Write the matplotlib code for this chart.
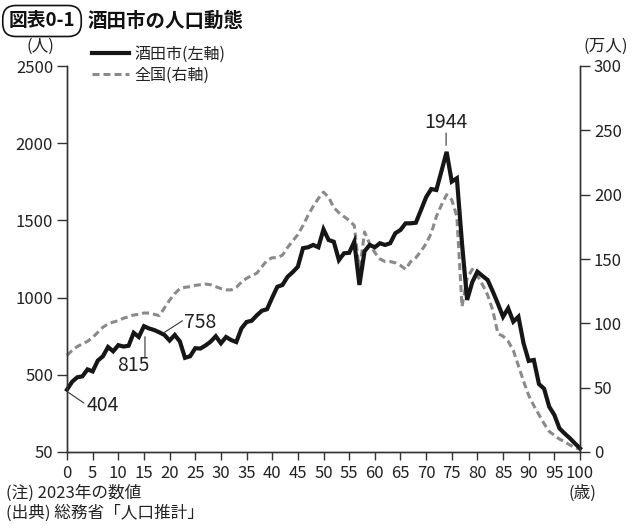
import matplotlib
matplotlib.use("Agg")
import matplotlib.pyplot as plt
from matplotlib import font_manager

plt.rcParams['font.family'] = ['Noto Sans CJK JP', 'DejaVu Sans']

ages = list(range(0, 101))
sakata = [404, 455, 484, 490, 535, 522, 592, 620, 680, 652,
          692, 683, 688, 772, 745, 815, 800, 790, 775, 758,
          722, 758, 716, 610, 620, 672, 670, 690, 715, 750,
          704, 745, 725, 712, 800, 842, 850, 885, 915, 925,
          1000, 1070, 1082, 1135, 1165, 1200, 1320, 1326, 1341, 1326,
          1442, 1373, 1362, 1243, 1287, 1290, 1362, 1082, 1300, 1341,
          1326, 1352, 1341, 1352, 1417, 1438, 1481, 1481, 1485, 1567,
          1650, 1703, 1697, 1820, 1944, 1751, 1773, 1350, 985, 1100,
          1168, 1140, 1114, 1040, 960, 876, 931, 844, 876, 704,
          590, 596, 440, 410, 293, 240, 153, 120, 90, 56,
          24]
japan = [75, 79, 82, 84, 86, 89, 93, 97, 99.5, 101,
         102, 104, 105, 106.5, 107, 108, 108, 107, 106, 112,
         118, 123, 127, 128, 128.5, 129.5, 130, 130.5, 130, 128.5,
         127, 126, 126, 128, 132, 135, 137, 139, 144, 149,
         151, 151, 153, 159, 164, 169, 176, 184, 191, 197,
         202, 198, 190, 186, 183, 180, 176, 140, 171, 162,
         155, 150, 148, 148, 147, 145, 142, 148, 151, 156,
         162, 170, 183, 192, 200, 196, 183, 113, 135, 142,
         137, 130, 122, 110, 92, 90, 86, 79, 67, 55,
         44, 36, 29, 22, 16, 13, 10, 8, 5.5, 3.5,
         2]

left_ticks = [0, 500, 1000, 1500, 2000, 2500]
left_labels = ["50", "500", "1000", "1500", "2000", "2500"]
right_ticks = [0, 50, 100, 150, 200, 250, 300]
x_ticks = list(range(0, 101, 5))

names = {f.name for f in font_manager.fontManager.ttflist}
narrow = 'Liberation Sans Narrow' if 'Liberation Sans Narrow' in names else 'Noto Sans CJK JP'

W, H = 640, 530
fig = plt.figure(figsize=(6.4, 5.3), dpi=100)
ax = fig.add_axes([67 / W, 1 - 452 / H, (580 - 67) / W, (452 - 66) / H])
ax2 = ax.twinx()
ax.set_zorder(ax2.get_zorder() + 1)
ax.patch.set_visible(False)

tc = '#222222'
l1, = ax.plot(ages, sakata, color='#161616', lw=3.0, solid_joinstyle='miter',
              clip_on=False, label='酒田市(左軸)')
l2, = ax2.plot(ages, japan, color='#8a8a8a', lw=2.2, dashes=(2.3, 1.3),
               clip_on=False, label='全国(右軸)')

ax.set_xlim(0, 100)
ax.set_ylim(0, 2500)
ax2.set_ylim(0, 300)

for a in (ax, ax2):
    a.spines['top'].set_visible(False)
    for s in ('left', 'right', 'bottom'):
        a.spines[s].set_color('#333333')
        a.spines[s].set_linewidth(1.0)

ax.set_yticks(left_ticks)
ax.set_yticklabels(left_labels)
ax2.set_yticks(right_ticks)
ax.set_xticks(x_ticks)
ax.tick_params(axis='y', direction='out', length=7, width=1.0, color='#333333',
               labelsize=12, labelcolor=tc, pad=3)
ax2.tick_params(axis='y', direction='out', length=7, width=1.0, color='#333333',
                labelsize=12, labelcolor=tc, pad=3)
ax.tick_params(axis='x', direction='out', length=6, width=1.0, color='#333333',
               labelsize=12, labelcolor=tc, pad=3)
for lab in ax.get_xticklabels():
    lab.set_fontfamily([narrow, 'DejaVu Sans'])

# annotations
ax.text(6.9, 298, '404', fontsize=14, color=tc, ha='center', va='center')
ax.annotate('', xy=(0.3, 385), xytext=(3.3, 317),
            arrowprops=dict(arrowstyle='-', lw=0.8, color='#333333', shrinkA=0, shrinkB=0))
ax.text(12.9, 563, '815', fontsize=14, color=tc, ha='center', va='center')
ax.annotate('', xy=(15.2, 747), xytext=(15.2, 613),
            arrowprops=dict(arrowstyle='-', lw=0.8, color='#333333', shrinkA=0, shrinkB=0))
ax.text(22.8, 837, '758', fontsize=14, color=tc, ha='left', va='center')
ax.annotate('', xy=(19.0, 775), xytext=(22.5, 850),
            arrowprops=dict(arrowstyle='-', lw=0.8, color='#333333', shrinkA=0, shrinkB=0))
ax.text(73.9, 2137, '1944', fontsize=14, color=tc, ha='center', va='center')
ax.annotate('', xy=(73.9, 1985), xytext=(73.9, 2066),
            arrowprops=dict(arrowstyle='-', lw=0.8, color='#333333', shrinkA=0, shrinkB=0))

# legend
fig.legend(handles=[l1, l2], loc='upper left', bbox_to_anchor=(92 / W, 1 - 46 / H),
           frameon=False, fontsize=11.5, handlelength=2.3, handletextpad=0.35,
           labelspacing=0.25, borderpad=0, borderaxespad=0, labelcolor=tc)

# titles and units
fig.text(42 / W, 1 - 21 / H, '図表0-1', fontsize=13.5, fontweight='bold', color='#111111',
         ha='center', va='center',
         bbox=dict(boxstyle='round,pad=0.32,rounding_size=0.7', fc='white', ec='#111111', lw=1.2))
fig.text(88 / W, 1 - 21 / H, '酒田市の人口動態', fontsize=14, fontweight='bold',
         color='#111111', ha='left', va='center')
fig.text(40 / W, 1 - 46 / H, '(人)', fontsize=12, color=tc, ha='center', va='center')
fig.text(606 / W, 1 - 46 / H, '(万人)', fontsize=12, color=tc, ha='center', va='center')
fig.text(582 / W, 1 - 493 / H, '(歳)', fontsize=12, color=tc, ha='center', va='center')
fig.text(6 / W, 1 - 493 / H, '(注) 2023年の数値', fontsize=12, color=tc, ha='left', va='center')
fig.text(6 / W, 1 - 513 / H, '(出典) 総務省「人口推計」', fontsize=12, color=tc, ha='left', va='center')

fig.savefig('out.png', dpi=100, facecolor='white')
